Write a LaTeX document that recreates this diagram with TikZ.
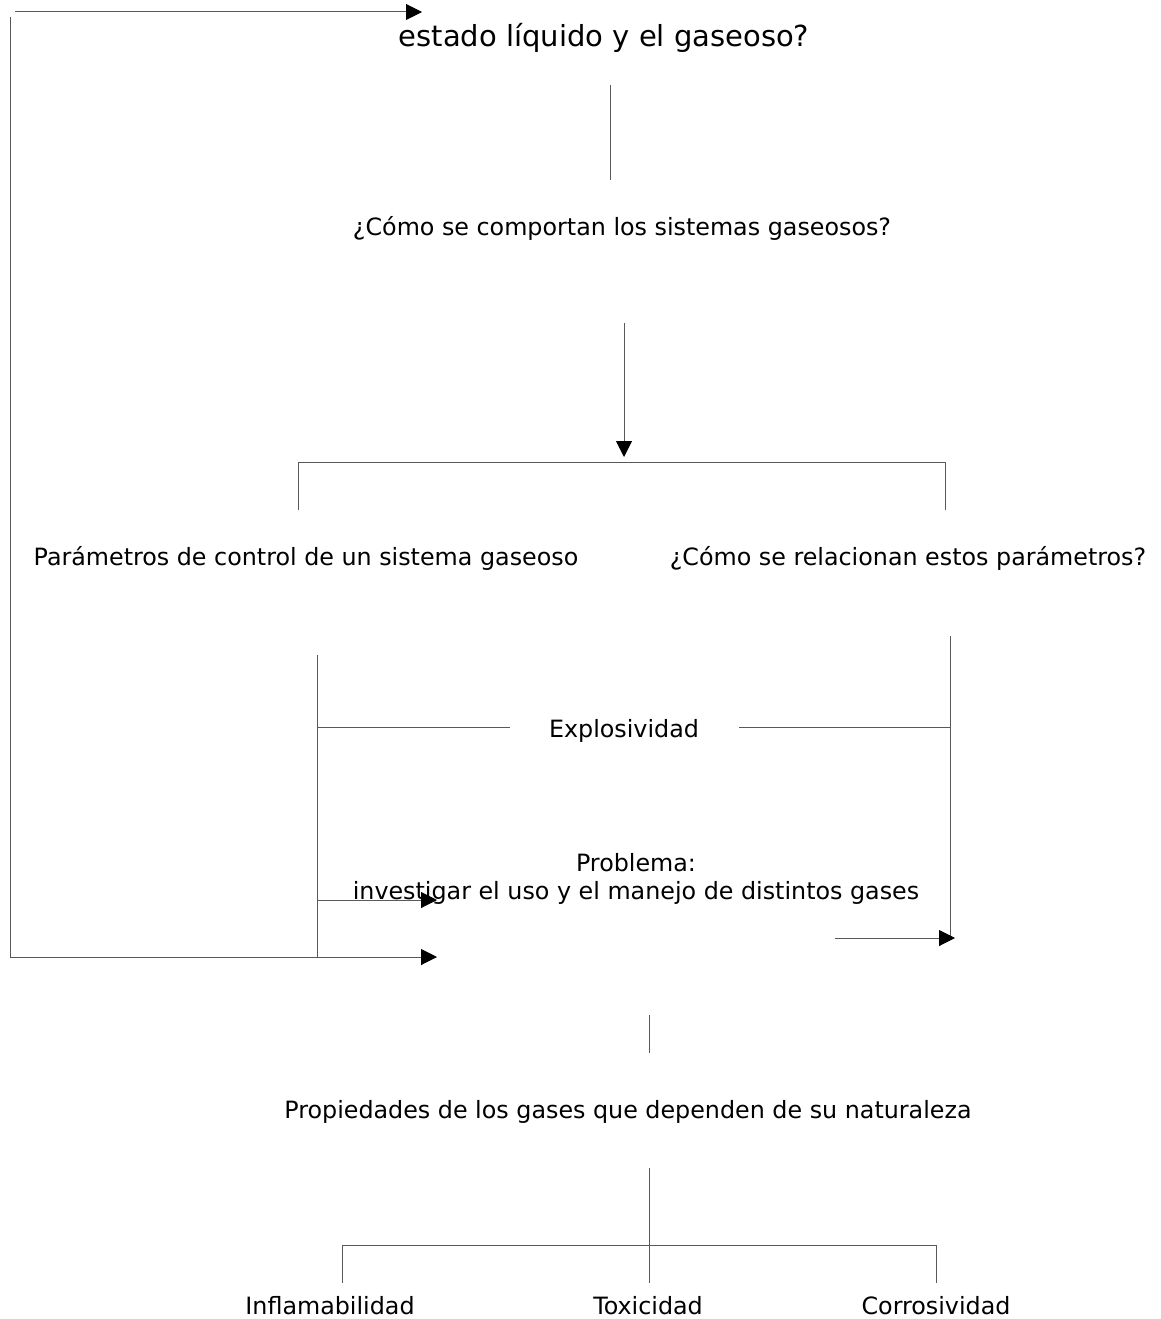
\documentclass[tikz,border=0pt]{standalone}
\usepackage{fontspec}
\setmainfont{DejaVu Sans}
\usetikzlibrary{arrows.meta}

\begin{document}
\begin{tikzpicture}[x=1pt,y=-1pt,
                txt/.style={inner sep=0pt,align=center,font=\fontsize{23.8}{28}\selectfont},
                ttl/.style={inner sep=0pt,font=\fontsize{29}{34}\selectfont},
                ln/.style={draw=black!65,line width=1pt},
                arr/.style={ln,-{Triangle[length=16pt,width=16pt,black]}}]
\useasboundingbox (0,0) rectangle (1160,1319);
% textos
\node[ttl] (titulo)  at (604,38)   {estado líquido y el gaseoso?};
\node[txt] (compor)  at (622,228)  {¿Cómo se comportan los sistemas gaseosos?};
\node[txt] (param)   at (306,558)  {Parámetros de control de un sistema gaseoso};
\node[txt] (relac)   at (908,558)  {¿Cómo se relacionan estos parámetros?};
\node[txt] (explo)   at (624,731)  {Explosividad};
\node[txt] (probl)   at (636,879)  {Problema:\\investigar el uso y el manejo de distintos gases};
\node[txt] (propie)  at (628,1112) {Propiedades de los gases que dependen de su naturaleza};
\node[txt] (infla)   at (330,1306) {Inflamabilidad};
\node[txt] (toxi)    at (648,1306) {Toxicidad};
\node[txt] (corro)   at (936,1306) {Corrosividad};
% puntos de las lineas
\coordinate (a1) at (15,12);   \coordinate (a2) at (422,12);
\coordinate (b1) at (10,17);   \coordinate (b2) at (10,957);
\coordinate (b3) at (437,957);
\coordinate (c1) at (610,85);  \coordinate (c2) at (610,180);
\coordinate (d1) at (624,323); \coordinate (d2) at (624,457);
\coordinate (e1) at (298,510); \coordinate (e2) at (945,510);
\coordinate (f1) at (317,655); \coordinate (f2) at (317,957);
\coordinate (f3) at (317,727); \coordinate (f4) at (510,727);
\coordinate (f5) at (317,900); \coordinate (f6) at (437,900);
\coordinate (g1) at (950,636); \coordinate (g2) at (950,938);
\coordinate (g3) at (739,727); \coordinate (g4) at (835,938);
\coordinate (g5) at (955,938);
\coordinate (h1) at (649,1015); \coordinate (h2) at (649,1053);
\coordinate (k1) at (649,1168); \coordinate (k2) at (649,1283);
\coordinate (k3) at (342,1283); \coordinate (k4) at (936,1283);
% conectores
\draw[arr] (a1) -- (a2);
\draw[ln]  (b1) -- (b2);
\draw[arr] (b2) -- (b3);
\draw[ln]  (c1) -- (c2);
\draw[arr] (d1) -- (d2);
\draw[ln]  (e1) |- (298,462) -| (e2);
\draw[ln]  (f1) -- (f2);
\draw[ln]  (f3) -- (f4);
\draw[arr] (f5) -- (f6);
\draw[ln]  (g1) -- (g2);
\draw[ln]  (g3) -- (950,727);
\draw[arr] (g4) -- (g5);
\draw[ln]  (h1) -- (h2);
\draw[ln]  (k1) -- (k2);
\draw[ln]  (k3) |- (649,1245) -| (k4);
\end{tikzpicture}
\end{document}
